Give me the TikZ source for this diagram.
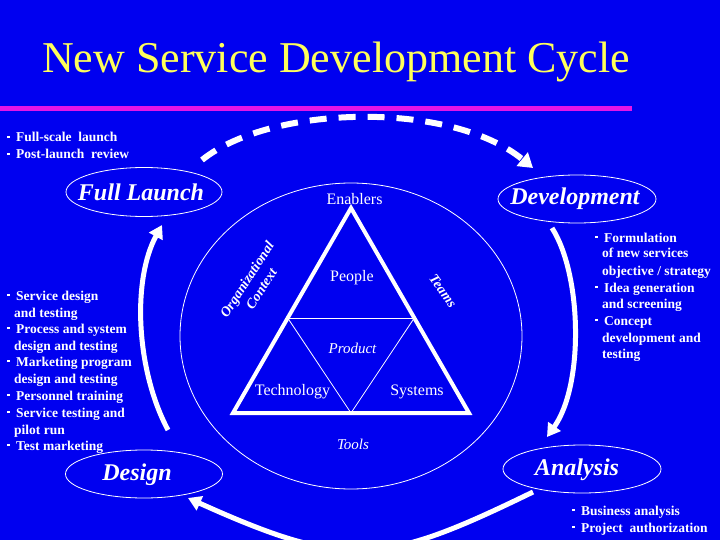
\documentclass[tikz,border=0pt]{standalone}
\usepackage{fontspec}
\setmainfont{Liberation Serif}
\usetikzlibrary{arrows.meta,shapes.geometric}
\definecolor{bg}{RGB}{0,0,240}
\definecolor{ttl}{RGB}{255,255,90}
\definecolor{mag}{RGB}{230,20,230}
\newcommand{\bl}{\makebox[9pt][l]{\raisebox{0.28em}{\rule{2.6pt}{2.6pt}}}}
\begin{document}
\begin{tikzpicture}[x=1pt,y=-1pt,
  txt/.style={text=white, inner sep=0pt},
  listtxt/.style={txt, anchor=base west, font=\fontsize{13.5}{16}\selectfont\bfseries},
  phase/.style={draw=white, line width=0.8pt, ellipse, inner sep=0pt},
  phasetxt/.style={txt, font=\fontsize{24}{24}\selectfont\bfseries\itshape},
  enab/.style={txt, font=\fontsize{16}{16}\selectfont},
  enabit/.style={txt, font=\fontsize{15}{15}\selectfont\itshape},
  ctxtxt/.style={txt, font=\fontsize{14}{17}\selectfont\bfseries\itshape},
  bigarrow/.style={white, line width=5pt, -{Triangle[length=13pt,width=15pt]}},
  thinline/.style={white, line width=0.8pt}
]
\useasboundingbox (0,0) rectangle (720,540);
\clip (0,0) rectangle (720,540);
\fill[bg] (0,0) rectangle (720,540);

% title and rule
\node[anchor=base, text=ttl, inner sep=0pt, font=\fontsize{44}{44}\selectfont] (title) at (336,73) {New Service Development Cycle};
\coordinate (m1) at (0,108.5);
\coordinate (m2) at (632,108.5);
\draw[mag, line width=5pt] (m1) -- (m2);

% big context ellipse
\node[phase, minimum width=342pt, minimum height=306pt] (ctx) at (351,336) {};

% phase ellipses
\node[phase, minimum width=156pt, minimum height=49pt] (fl) at (144,192) {};
\node[phase, minimum width=158pt, minimum height=48pt] (dev) at (577,199) {};
\node[phase, minimum width=158pt, minimum height=48pt] (ana) at (582,469) {};
\node[phase, minimum width=157pt, minimum height=48pt] (des) at (144,474) {};
\node[phasetxt] (flt) at (141,192) {Full Launch};
\node[phasetxt] (devt) at (575,199) {Development};
\node[phasetxt] (anat) at (577,470) {Analysis};
\node[phasetxt] (dest) at (137,475) {Design};

% triangle
\coordinate (apex) at (351,208);
\coordinate (tbl) at (233,413);
\coordinate (tbr) at (469,413);
\coordinate (ml) at (287.7,318);
\coordinate (mr) at (414.3,318);
\coordinate (bm) at (351,413);
\draw[white, line width=4pt, line join=miter] (apex) -- (tbl) -- (tbr) -- cycle;
\draw[thinline] (ml) -- (mr);
\draw[thinline] (ml) -- (bm) -- (mr);

% enabler texts
\node[enab] (enablers) at (354.5,199) {Enablers};
\node[enab] (people) at (352,278) {People};
\node[enabit] (product) at (352.5,348) {Product};
\node[enab] (tech) at (292.5,392) {Technology};
\node[enab] (sys) at (417,392) {Systems};
\node[enabit] (tools) at (353,444) {Tools};
\node[ctxtxt, rotate=57, align=center] (org) at (254,284) {Organizational\\Context};
\node[ctxtxt, rotate=-54] (teams) at (443,291) {Teams};

% arrows
\coordinate (a1s) at (168,430);
\coordinate (a1e) at (162,225);
\draw[bigarrow] (a1s) .. controls (136,370) and (132,280) .. (a1e);
\coordinate (a2s) at (552,228);
\coordinate (a2e) at (547,437);
\draw[bigarrow] (a2s) .. controls (582,275) and (584,385) .. (a2e);
\coordinate (a3s) at (533,492);
\coordinate (a3e) at (188,498);
\draw[bigarrow] (a3s) .. controls (383,565) and (348,570) .. (a3e);
\coordinate (a4s) at (202,160);
\coordinate (a4e) at (533,168);
\draw[white, line width=6pt, dash pattern=on 17pt off 12pt, -{Triangle[length=14pt,width=17pt]}] (a4s) .. controls (270,105) and (450,100) .. (a4e);

% top-left list
\node[listtxt] (tl1) at (7,142) {\bl Full-scale\ \ launch};
\node[listtxt] (tl2) at (7,159) {\bl Post-launch\ \ review};

% left list
\foreach \yy/\tx [count=\i] in {
  300/{\bl Service design},
  317/{\hspace*{7pt}and testing},
  333/{\bl Process and system},
  350/{\hspace*{7pt}design and testing},
  366/{\bl Marketing program},
  383/{\hspace*{7pt}design and testing},
  400/{\bl Personnel training},
  417/{\bl Service testing and},
  434/{\hspace*{7pt}pilot run},
  450/{\bl Test marketing}}
  \node[listtxt] (ll\i) at (7,\yy) {\tx};

% right list
\foreach \yy/\tx [count=\i] in {
  242/{\bl Formulation},
  258/{\hspace*{7pt}of new services},
  275/{\hspace*{7pt}objective / strategy},
  292/{\bl Idea generation},
  308/{\hspace*{7pt}and screening},
  325/{\bl Concept},
  342/{\hspace*{7pt}development and},
  358/{\hspace*{7pt}testing}}
  \node[listtxt] (rl\i) at (595,\yy) {\tx};

% bottom-right list
\node[listtxt] (br1) at (572,515) {\bl Business analysis};
\node[listtxt] (br2) at (572,532) {\bl Project\ \ authorization};
\end{tikzpicture}
\end{document}
